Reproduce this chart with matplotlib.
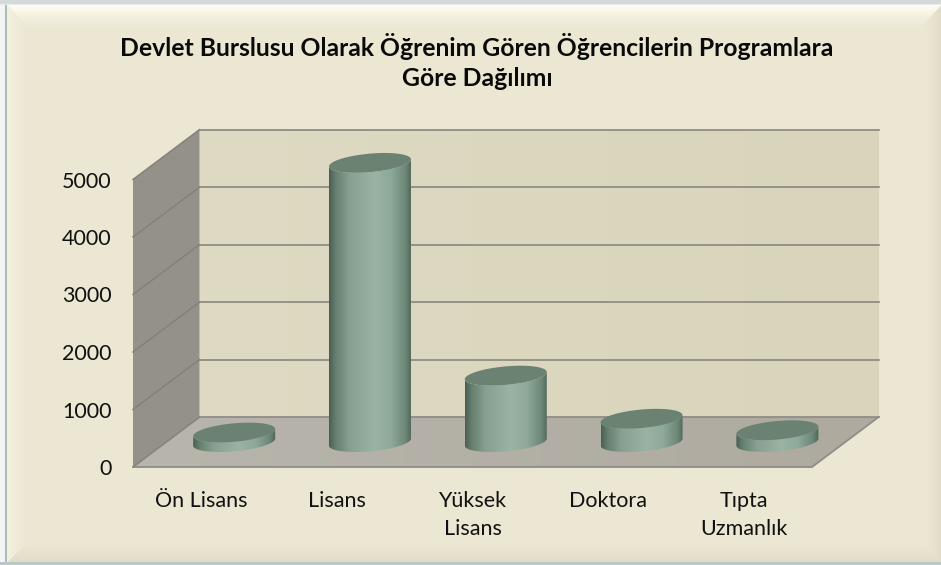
import numpy as np
import matplotlib
matplotlib.use("Agg")
import matplotlib.pyplot as plt
from matplotlib.colors import LinearSegmentedColormap
from matplotlib.patches import Polygon

plt.rcParams['font.family'] = ['Lato', 'DejaVu Sans']

title = "Devlet Burslusu Olarak Öğrenim Gören Öğrencilerin Programlara\nGöre Dağılımı"
categories = ["Ön Lisans", "Lisans", "Yüksek\nLisans", "Doktora", "Tıpta\nUzmanlık"]
values = [165, 4855, 1155, 405, 205]
y_ticks = [0, 1000, 2000, 3000, 4000, 5000]

W, H = 941, 565
# depth of the fake 3d box, in data units
DX = 0.49
DY = 868
RX = 0.302
RY = 161
SKEW = 62

body_cmap = LinearSegmentedColormap.from_list(
    "body", [(0, "#4a5f53"), (0.08, "#66806f"), (0.25, "#87a091"), (0.55, "#9ab3a3"),
             (0.75, "#8ea899"), (0.92, "#6e8878"), (1, "#4f6458")])


def px(x0, y0, x1, y1):
    # pixel box (top left origin) to figure fractions
    return [x0 / W, 1 - y1 / H, (x1 - x0) / W, (y1 - y0) / H]


def background(ax):
    yy, xx = np.mgrid[0:H, 0:W]
    l, t, r, b = xx - 7.0, yy - 5.0, 941.0 - xx, 562.0 - yy
    near = np.minimum.reduce([l, t, r, b])
    img = np.ones((H, W, 3)) * np.array([235, 231, 210]) / 255
    top = np.array([255, 253, 240]) / 255
    left = np.array([245, 241, 224]) / 255
    dark = np.array([224, 220, 200]) / 255
    for d, col, depth in [(t, top, 25), (l, left, 22), (r, dark, 16), (b, dark, 20)]:
        mask = (d == near) & (d < depth)
        a = (1 - d[mask] / depth)[:, None] ** 1.4
        img[mask] = img[mask] * (1 - a) + col * a
    img[:, :5] = np.array([243, 245, 245]) / 255
    img[:, 5:7] = np.array([170, 188, 188]) / 255
    img[562:] = np.array([185, 201, 201]) / 255
    img[:4] = np.array([216, 216, 216]) / 255
    img[4] = np.array([224, 238, 240]) / 255
    ax.imshow(img, aspect='auto', interpolation='nearest')
    ax.axis('off')


def fill_gradient(ax, xy, colors, zorder):
    xy = np.array(xy)
    patch = Polygon(xy, closed=True, fc='none', ec='none', transform=ax.transData)
    ax.add_patch(patch)
    cmap = LinearSegmentedColormap.from_list("g", colors) if isinstance(colors, list) else colors
    im = ax.imshow(np.linspace(0, 1, 256)[None, :], cmap=cmap, aspect='auto', interpolation='bilinear',
                   extent=(xy[:, 0].min(), xy[:, 0].max(), xy[:, 1].min(), xy[:, 1].max()), zorder=zorder)
    im.set_clip_box(fig.bbox)
    im.set_clip_path(patch)


def ring(xc, level, a, b):
    t = np.linspace(a, b, 80)
    return np.column_stack([xc + RX * np.cos(t), level + RY * np.sin(t) + SKEW * np.cos(t)])


fig = plt.figure(figsize=(W / 100, H / 100), dpi=100)

bg = fig.add_axes([0, 0, 1, 1])
background(bg)

ax = fig.add_axes(px(133, 179.5, 812, 467))
x0, x1 = -0.5, 4.5
top = max(y_ticks)

fill_gradient(ax, [(x0 + DX, DY), (x1 + DX, DY), (x1 + DX, top + DY), (x0 + DX, top + DY)],
              ["#dedac3", "#d9d4bb"], 1)
ax.add_patch(Polygon([(x0, 0), (x0 + DX, DY), (x0 + DX, top + DY), (x0, top)], fc="#94918a", ec='none', zorder=1, clip_on=False))
fill_gradient(ax, [(x0, 0), (x1, 0), (x1 + DX, DY), (x0 + DX, DY)], ["#b8b5ac", "#aeaaa0"], 1)

grid = "#8f8d85"
for v in y_ticks:
    ax.plot([x0 + DX, x1 + DX], [v + DY, v + DY], color=grid, lw=1.3, zorder=2, clip_on=False)
    ax.plot([x0, x0 + DX], [v, v + DY], color="#84827b", lw=1.1, zorder=2, clip_on=False)
ax.plot([x0, x1, x1 + DX], [0, 0, DY], color=grid, lw=1.3, zorder=2, clip_on=False)

for i, v in enumerate(values):
    xc = i + DX / 2
    base = DY / 2
    lower_top = ring(xc, base + v, np.pi, 2 * np.pi)
    lower_base = ring(xc, base, np.pi, 2 * np.pi)[::-1]
    fill_gradient(ax, np.vstack([lower_top, lower_base]), body_cmap, 3 + i)
    ax.add_patch(Polygon(ring(xc, base + v, 0, 2 * np.pi), fc="#6b8272", ec='none', zorder=3.5 + i, clip_on=False))

ax.set_xlim(x0, x1)
ax.set_ylim(0, top)
ax.set_xticks(range(len(categories)), categories, fontsize=15.5, color="#111111", linespacing=1.55)
ax.set_yticks(y_ticks, [str(v) for v in y_ticks], fontsize=15.5, color="#111111")
ax.tick_params(length=0)
ax.tick_params(axis='x', pad=17)
ax.tick_params(axis='y', pad=15.5)
for s in ax.spines.values():
    s.set_visible(False)
ax.patch.set_visible(False)

fig.text(477 / W, 1 - 61.5 / H, title, ha='center', va='center', fontsize=17.8, fontweight='bold',
         color="#0a0a0a", linespacing=1.35)

fig.savefig("out.png", dpi=100)
